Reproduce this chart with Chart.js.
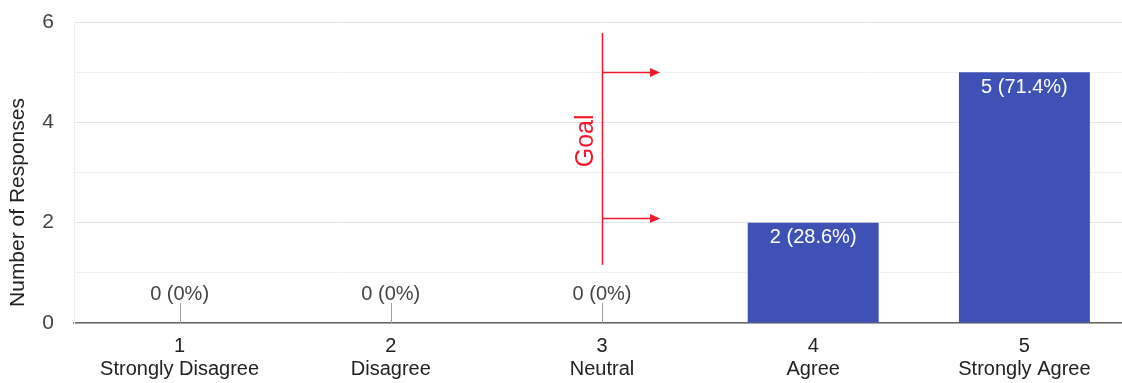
<!DOCTYPE html>
<html>
<head>
<meta charset="utf-8">
<script src="https://cdn.jsdelivr.net/npm/chart.js@4/dist/chart.umd.min.js"></script>
<style>
  html, body { margin: 0; padding: 0; background: #fff; overflow: hidden; }
  #wrap { width: 1134px; height: 383px; }
</style>
</head>
<body>
<div id="wrap"><canvas id="responsesChart"></canvas></div>
<script>
// data
const categories = ['1', '2', '3', '4', '5'];
const categoryNames = ['Strongly Disagree', 'Disagree', 'Neutral', 'Agree', 'Strongly Agree'];
const responses = [0, 0, 0, 2, 5];
const percentLabels = ['0%', '0%', '0%', '28.6%', '71.4%'];
const yTicks = [0, 2, 4, 6];
const yTitle = 'Number of Responses';

// goal annotation (in data units: category index / response count)
const goalCategory = 2;
const goalLineRange = [1.16, 5.78];
const goalArrowLevels = [5.0, 2.1];
const goalArrowLength = 0.275;
const goalTextLevel = 3.63;

const FONT = '"Liberation Sans", Arial, Helvetica, sans-serif';
const BAR_COLOR = '#3f51b5';
const GOAL_RED = '#f2182b';

// value labels + little stems for empty categories
const valueLabels = {
  id: 'valueLabels',
  afterDatasetsDraw(chart) {
    const ctx = chart.ctx;
    const x = chart.scales.x, y = chart.scales.y;
    const zeroY = y.getPixelForValue(0);
    ctx.save();
    ctx.font = '20px ' + FONT;
    ctx.textAlign = 'center';
    ctx.textBaseline = 'middle';
    responses.forEach((v, i) => {
      const px = x.getPixelForValue(i);
      const text = v + ' (' + percentLabels[i] + ')';
      if (v === 0) {
        ctx.strokeStyle = '#9e9e9e';
        ctx.lineWidth = 1;
        ctx.beginPath();
        ctx.moveTo(Math.round(px) + 0.5, zeroY);
        ctx.lineTo(Math.round(px) + 0.5, zeroY - 20);
        ctx.stroke();
        ctx.fillStyle = '#444';
        ctx.fillText(text, px, zeroY - 29);
      } else {
        ctx.fillStyle = '#fff';
        ctx.fillText(text, px, y.getPixelForValue(v) + 15);
      }
    });
    ctx.restore();
  }
};

// y axis title, sits a little below the plot's middle like the original
const axisTitle = {
  id: 'axisTitle',
  afterDraw(chart) {
    const ctx = chart.ctx;
    const area = chart.chartArea;
    ctx.save();
    ctx.translate(18, (area.top + area.bottom) / 2 + 30);
    ctx.rotate(-Math.PI / 2);
    ctx.font = '21px ' + FONT;
    ctx.fillStyle = '#222';
    ctx.textAlign = 'center';
    ctx.textBaseline = 'middle';
    ctx.fillText(yTitle, 0, 0);
    ctx.restore();
  }
};

// red "Goal" marker with arrows
const goalMarker = {
  id: 'goalMarker',
  afterDatasetsDraw(chart) {
    const ctx = chart.ctx;
    const x = chart.scales.x, y = chart.scales.y;
    const gx = Math.round(x.getPixelForValue(goalCategory)) + 0.5;
    ctx.save();
    ctx.strokeStyle = GOAL_RED;
    ctx.fillStyle = GOAL_RED;
    ctx.lineWidth = 1.5;
    ctx.beginPath();
    ctx.moveTo(gx, y.getPixelForValue(goalLineRange[1]));
    ctx.lineTo(gx, y.getPixelForValue(goalLineRange[0]));
    ctx.stroke();
    goalArrowLevels.forEach(level => {
      const ay = Math.round(y.getPixelForValue(level)) + 0.5;
      const ax = x.getPixelForValue(goalCategory + goalArrowLength);
      ctx.beginPath();
      ctx.moveTo(gx, ay);
      ctx.lineTo(ax - 8, ay);
      ctx.stroke();
      ctx.beginPath();
      ctx.moveTo(ax, ay);
      ctx.lineTo(ax - 10, ay - 4.5);
      ctx.lineTo(ax - 10, ay + 4.5);
      ctx.closePath();
      ctx.fill();
    });
    ctx.translate(gx - 16, y.getPixelForValue(goalTextLevel));
    ctx.rotate(-Math.PI / 2);
    ctx.font = '25px ' + FONT;
    ctx.textAlign = 'center';
    ctx.textBaseline = 'middle';
    ctx.fillText('Goal', 0, 0);
    ctx.restore();
  }
};

new Chart(document.getElementById('responsesChart'), {
  type: 'bar',
  data: {
    labels: categories.map((c, i) => [c, categoryNames[i]]),
    datasets: [{
      label: 'Responses',
      data: responses,
      backgroundColor: BAR_COLOR,
      borderWidth: 0,
      barPercentage: 0.62,
      categoryPercentage: 1.0
    }]
  },
  options: {
    responsive: true,
    maintainAspectRatio: false,
    animation: false,
    layout: { padding: { top: 22, right: 4, left: 0, bottom: 0 } },
    plugins: {
      legend: { display: false },
      tooltip: { enabled: false }
    },
    scales: {
      x: {
        grid: { display: false },
        border: { display: true, color: '#666', width: 1.5 },
        ticks: {
          color: '#222',
          font: { family: FONT, size: 20, lineHeight: 1.15 },
          padding: 4,
          maxRotation: 0
        },
        afterFit: (scale) => { scale.height = 60; }
      },
      y: {
        min: 0,
        max: 6,
        afterBuildTicks: (scale) => {
          scale.ticks = [0, 1, 2, 3, 4, 5, 6].map(v => ({ value: v }));
        },
        grid: {
          color: (c) => c.tick.value % 2 === 0 ? '#e4e4e4' : '#f1f1f1',
          drawTicks: false,
          lineWidth: 1
        },
        border: { display: true, color: '#eeeeee' },
        ticks: {
          color: '#444',
          font: { family: FONT, size: 21 },
          padding: 20,
          callback: (v) => yTicks.includes(v) ? String(v) : ''
        },
        afterFit: (scale) => {
          scale.width = 74;
          // keep label overflow from pushing the plot area down
          scale.paddingTop = 0;
          scale.paddingBottom = 0;
        }
      }
    }
  },
  plugins: [valueLabels, goalMarker, axisTitle]
});
</script>
</body>
</html>
